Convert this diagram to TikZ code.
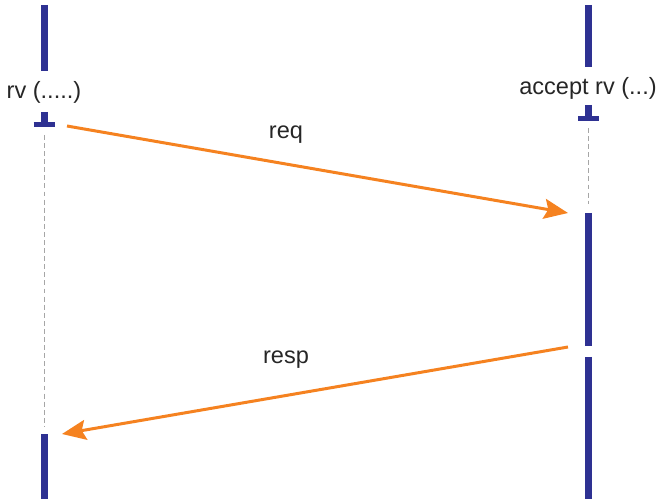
\documentclass[tikz,border=0pt]{standalone}
\usepackage{fontspec}
\setmainfont{Liberation Sans}
\usetikzlibrary{arrows.meta}
\definecolor{lifeblue}{RGB}{46,49,146}
\definecolor{msgorange}{RGB}{245,130,32}

\begin{document}
\begin{tikzpicture}[x=0.02cm,y=-0.02cm,
  bar/.style={draw=lifeblue,line width=0.14cm},
  foot/.style={draw=lifeblue,line width=0.085cm},
  wait/.style={draw=gray!70,line width=0.45pt,dash pattern=on 2.8pt off 1.8pt},
  msg/.style={draw=msgorange,line width=0.06cm,-{Stealth[length=0.48cm,width=0.4cm,inset=0.08cm]}},
  lbl/.style={font=\fontsize{13.4}{16}\selectfont,text=black!85}]
\useasboundingbox (0,0) rectangle (662,499);

% caller lifeline
\node[lbl] (rv) at (44,92) {rv (.....)};
\coordinate (c_top) at (44,5);
\coordinate (c_stop) at (44,71);
\coordinate (c_wait) at (44,135);
\coordinate (c_back) at (44,434);
\coordinate (c_end) at (44,499);
\draw[bar] (c_top) -- (c_stop);
\draw[bar] (44,112) -- (44,124);
\draw[foot] (33.5,124.5) -- (55,124.5);
\draw[wait] (c_wait) -- (44,426);
\draw[bar] (c_back) -- (c_end);

% callee lifeline
\node[lbl] (accept) at (588,88) {accept rv (...)};
\coordinate (s_top) at (588,5);
\coordinate (s_stop) at (588,67);
\coordinate (s_wait) at (588,128);
\coordinate (s_run) at (588,213);
\coordinate (s_done) at (588,346);
\coordinate (s_next) at (588,357);
\coordinate (s_end) at (588,499);
\draw[bar] (s_top) -- (s_stop);
\draw[bar] (588,105) -- (588,118);
\draw[foot] (578,118.5) -- (599,118.5);
\draw[wait] (s_wait) -- (588,204);
\draw[bar] (s_run) -- (s_done);
\draw[bar] (s_next) -- (s_end);

% messages
\coordinate (req_out) at (67,126);
\coordinate (req_in) at (568,213);
\coordinate (resp_out) at (568,347);
\coordinate (resp_in) at (62,434);
\draw[msg] (req_out) -- (req_in);
\draw[msg] (resp_out) -- (resp_in);
\node[lbl] (req) at (286,135) {req};
\node[lbl] (resp) at (286,360) {resp};
\end{tikzpicture}
\end{document}
